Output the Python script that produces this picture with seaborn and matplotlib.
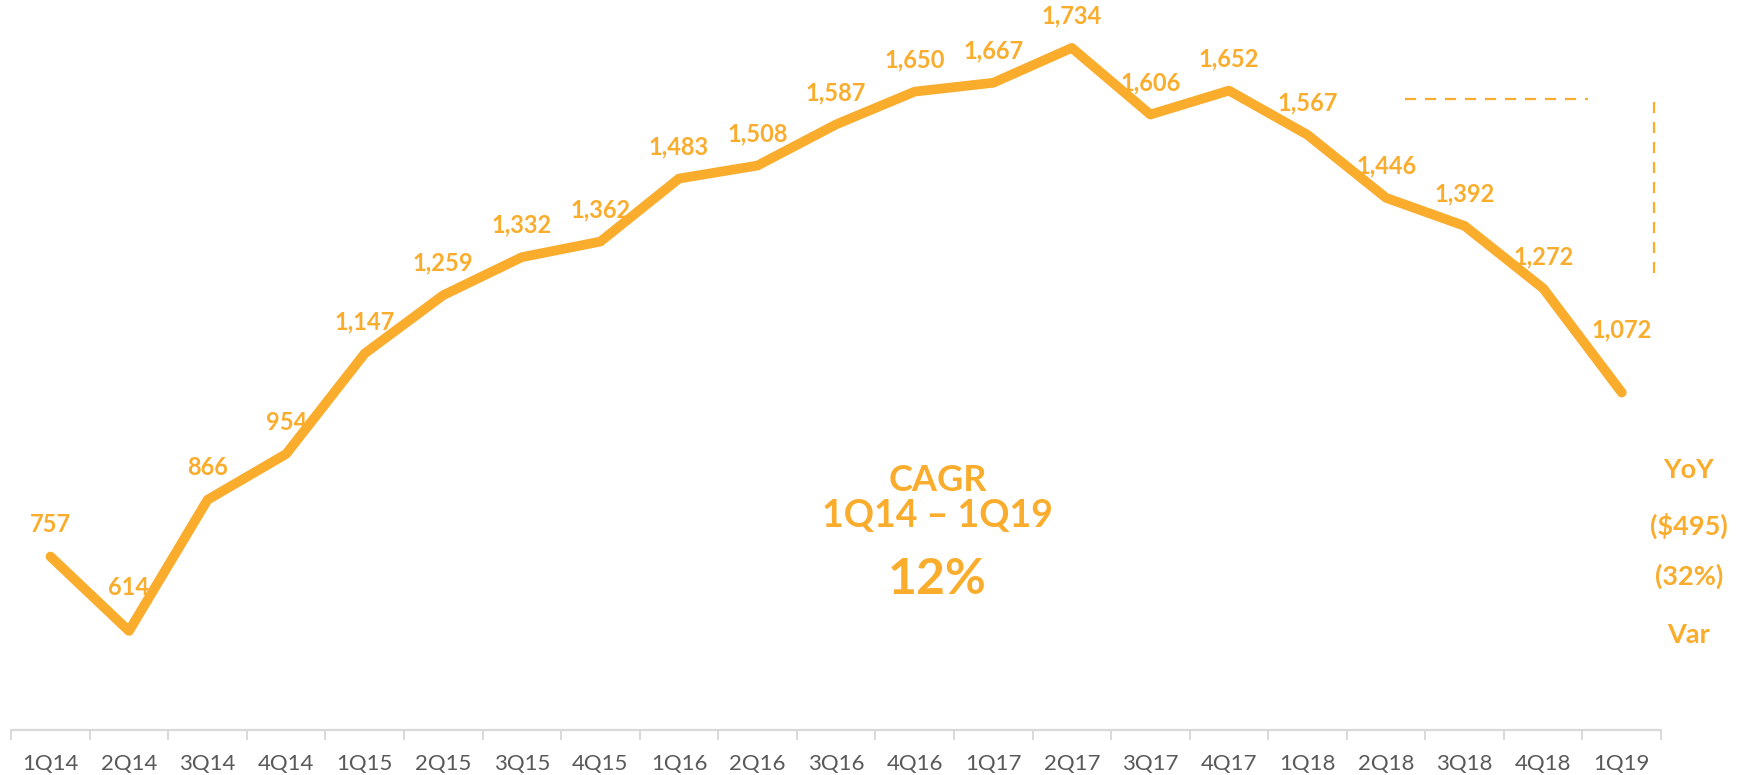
import matplotlib
matplotlib.use("Agg")
import matplotlib.pyplot as plt
import seaborn as sns
import pandas as pd
import numpy as np

# data
quarters = ["1Q14", "2Q14", "3Q14", "4Q14", "1Q15", "2Q15", "3Q15", "4Q15",
            "1Q16", "2Q16", "3Q16", "4Q16", "1Q17", "2Q17", "3Q17", "4Q17",
            "1Q18", "2Q18", "3Q18", "4Q18", "1Q19"]
values = [757, 614, 866, 954, 1147, 1259, 1332, 1362, 1483, 1508, 1587, 1650,
          1667, 1734, 1606, 1652, 1567, 1446, 1392, 1272, 1072]
cagr_lines = ["CAGR", "1Q14 \u2013 1Q19", "12%"]
yoy_lines = ["YoY", "($495)", "(32%)", "Var"]

ORANGE = "#FAAD2D"
GRAY = "#595959"


def main():
    sns.set_theme(style="white")
    plt.rcParams["font.family"] = ["Lato", "DejaVu Sans"]

    df = pd.DataFrame({"quarter": quarters, "value": values})

    fig = plt.figure(figsize=(17.48, 7.75), dpi=100)
    ax = fig.add_axes([10 / 1568, 1 - 655 / 695, 1480 / 1568, 655 / 695])

    sns.lineplot(data=df, x="quarter", y="value", ax=ax, color=ORANGE,
                 linewidth=7, sort=False)
    for ln in ax.lines:
        ln.set_solid_capstyle("round")
        ln.set_solid_joinstyle("round")

    ax.set_xlim(-0.5, len(quarters) - 0.5)
    ax.set_ylim(423, 1826)

    # data labels above points
    extra = {1: 8, 20: 22}
    for i, v in enumerate(values):
        off = 23 + extra.get(i, 0)
        ax.annotate(f"{v:,}", xy=(i, v), xytext=(0, off), textcoords="offset points",
                    ha="center", va="center", color=ORANGE, fontsize=17,
                    fontweight="bold")

    # axes styling
    for s in ["top", "right", "left"]:
        ax.spines[s].set_visible(False)
    ax.spines["bottom"].set_color("#D9D9D9")
    ax.spines["bottom"].set_linewidth(1.6)
    ax.set_yticks([])
    ax.set_xlabel("")
    ax.set_ylabel("")
    ax.set_xticks(range(len(quarters)))
    ax.set_xticklabels(quarters, color=GRAY, fontsize=16)
    ax.tick_params(axis="x", which="major", length=0, pad=17)
    ax.set_xticks(np.arange(-0.5, len(quarters)), minor=True)
    ax.tick_params(axis="x", which="minor", length=7, width=1.4,
                   color="#D9D9D9", direction="out", bottom=True)

    # dashed bracket on the right
    ax.plot([0.845, 0.956], [0.864, 0.864], transform=ax.transAxes,
            color=ORANGE, linewidth=1.6, dashes=(5, 4), clip_on=False)
    ax.plot([0.996, 0.996], [0.860, 0.626], transform=ax.transAxes,
            color=ORANGE, linewidth=1.6, dashes=(5, 4), clip_on=False)

    # CAGR block
    cagr_y = [0.380, 0.334, 0.252]
    cagr_size = [26, 27, 36]
    for txt, y, fs in zip(cagr_lines, cagr_y, cagr_size):
        fig.text(841 / 1568, y, txt, ha="center", va="center", color=ORANGE,
                 fontsize=fs, fontweight="bold")

    # YoY block
    yoy_y = [0.393, 0.322, 0.256, 0.181]
    for txt, y in zip(yoy_lines, yoy_y):
        fig.text(1515 / 1568, y, txt, ha="center", va="center", color=ORANGE,
                 fontsize=19.5, fontweight="bold")

    fig.savefig("out.png", dpi=100)
    plt.close(fig)


if __name__ == "__main__":
    main()
